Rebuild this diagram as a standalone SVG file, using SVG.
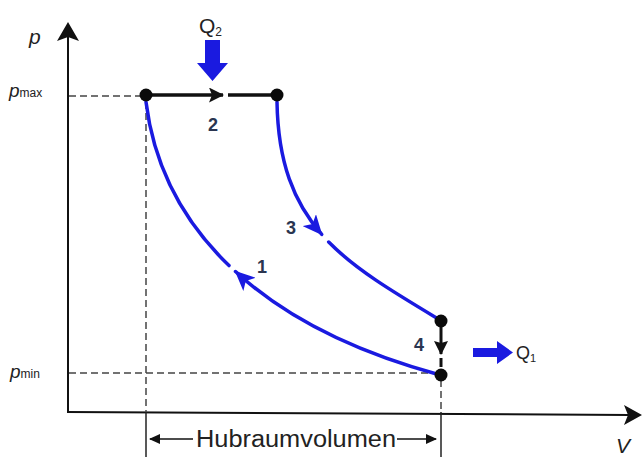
<svg xmlns="http://www.w3.org/2000/svg" width="642" height="457" viewBox="0 0 642 457">
<style>
.axis{stroke:#111;stroke-width:2;fill:none}
.dash{stroke:#444;stroke-width:1.5;stroke-dasharray:7 4;fill:none}
.guide{stroke:#222;stroke-width:1.5;fill:none}
.curve{stroke:#1a1ae0;stroke-width:3.5;fill:none;stroke-linecap:round}
.iso{stroke:#111;stroke-width:3.5;fill:none}
.pt{fill:#0a0a0a}
.lbl{font-family:"Liberation Sans",Arial,sans-serif;font-weight:bold;font-size:18px;fill:#2a3550;text-anchor:middle}
.txt{font-family:"Liberation Sans",Arial,sans-serif;fill:#222}
.it{font-style:italic}
.blue{fill:#1a1ae0}
</style>
<defs>
<marker id="bArrow" markerUnits="userSpaceOnUse" markerWidth="20" markerHeight="18" viewBox="0 0 20 18" refX="19" refY="9" orient="auto">
<path d="M0,0 L20,9 L0,18 L5,9 Z" fill="#1a1ae0"/>
</marker>
<marker id="kArrow" markerUnits="userSpaceOnUse" markerWidth="15" markerHeight="15" viewBox="0 0 15 15" refX="14" refY="7.5" orient="auto">
<path d="M0,0 L15,7.5 L0,15 L3,7.5 Z" fill="#111"/>
</marker>
<marker id="dArrow" markerUnits="userSpaceOnUse" markerWidth="14" markerHeight="14" viewBox="0 0 14 14" refX="13" refY="7" orient="auto">
<path d="M0,0 L14,7 L0,14 L2,7 Z" fill="#111"/>
</marker>
<marker id="sArrow" markerUnits="userSpaceOnUse" markerWidth="11" markerHeight="10" viewBox="0 0 11 10" refX="10" refY="5" orient="auto-start-reverse">
<path d="M0,0 L11,5 L0,10 Z" fill="#111"/>
</marker>
</defs>

<g id="axes">
<line class="axis" x1="68" y1="413" x2="68" y2="36"/>
<path d="M68,22 L79,41 L68,37 L57,41 Z" fill="#111"/>
<line class="axis" x1="67" y1="412" x2="630" y2="415"/>
<path d="M642,415 L624,405 L628,415 L624,425 Z" fill="#111"/>
<text class="txt it" x="29" y="44" font-size="21">p</text>
<text class="txt it" x="616" y="453" font-size="21">V</text>
<text class="txt" x="9" y="97"><tspan class="it" font-size="19">p</tspan><tspan font-size="12">max</tspan></text>
<text class="txt" x="10" y="378"><tspan class="it" font-size="19">p</tspan><tspan font-size="12">min</tspan></text>
</g>

<g id="guides">
<line class="dash" x1="69" y1="96" x2="140" y2="96"/>
<line class="dash" x1="69" y1="373" x2="432" y2="373"/>
<line class="dash" x1="146" y1="102" x2="146" y2="412"/>
<line class="guide" x1="146" y1="412" x2="146" y2="457"/>
<line class="dash" x1="441" y1="380" x2="441" y2="412"/>
<line class="guide" x1="441" y1="412" x2="441" y2="457"/>
</g>

<g id="connectors">
<line class="iso" x1="150" y1="95" x2="223" y2="95" marker-end="url(#kArrow)"/>
<line class="iso" x1="228" y1="95" x2="275" y2="95"/>
<path class="curve" d="M146,102 C153.5,162.5 180.5,218.75 229,265.6"/>
<path class="curve" d="M440,375 C351.2,351 283.14,315.48 235.5,271.5" marker-end="url(#bArrow)"/>
<path class="curve" d="M277,102 C278,162.5 293.75,202.5 321.75,234.4" marker-end="url(#bArrow)"/>
<path class="curve" d="M328.7,242.07 C356.25,270.09 394,292.4 440,320"/>
<line x1="441" y1="327" x2="441" y2="354" stroke="#111" stroke-width="3" marker-end="url(#dArrow)"/>
<line x1="441" y1="358" x2="441" y2="367" stroke="#111" stroke-width="3"/>
<line x1="150" y1="439" x2="193" y2="439" stroke="#111" stroke-width="1.5" marker-start="url(#sArrow)"/>
<line x1="397" y1="439" x2="436" y2="439" stroke="#111" stroke-width="1.5" marker-end="url(#sArrow)"/>
</g>

<g id="node-1"><circle class="pt" cx="146" cy="95" r="6.5"/></g>
<g id="node-2"><circle class="pt" cx="277" cy="95" r="6.5"/></g>
<g id="node-3"><circle class="pt" cx="441" cy="321" r="6.5"/></g>
<g id="node-4"><circle class="pt" cx="441" cy="375" r="6.5"/></g>

<g id="heat-in">
<path class="blue" d="M205,40 H220 V63 H228 L212.5,81 L197,63 H205 Z"/>
<text class="txt" x="199" y="33" font-size="21">Q<tspan font-size="12" dy="3">2</tspan></text>
</g>
<g id="heat-out">
<path class="blue" d="M473,348 H497 V341 L513,352.5 L497,364 V357 H473 Z"/>
<text class="txt" x="516" y="359" font-size="18">Q<tspan font-size="11" dy="3">1</tspan></text>
</g>

<g id="labels">
<text class="lbl" x="213" y="131">2</text>
<text class="lbl" x="291" y="234">3</text>
<text class="lbl" x="262" y="273">1</text>
<text class="lbl" x="419" y="351">4</text>
<text class="txt" x="296" y="447" font-size="23" text-anchor="middle" textLength="200" lengthAdjust="spacingAndGlyphs">Hubraumvolumen</text>
</g>
</svg>
